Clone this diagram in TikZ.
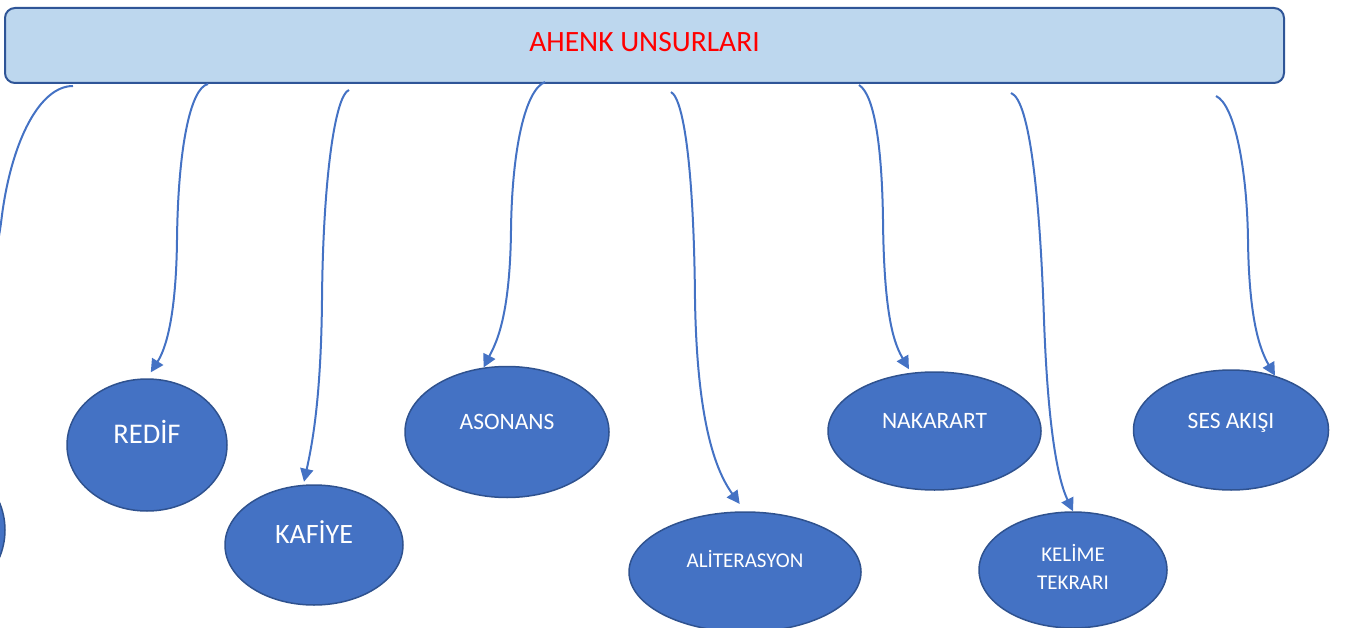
\documentclass[tikz,border=0pt]{standalone}
\usepackage{fontspec}
\setmainfont{Carlito}
\usetikzlibrary{arrows.meta,shapes.geometric}
\definecolor{bannerfill}{HTML}{BDD7EE}
\definecolor{bannerline}{HTML}{2F5597}
\definecolor{bubblefill}{HTML}{4472C4}
\definecolor{bubbleline}{HTML}{2F528F}
\definecolor{linkblue}{HTML}{4472C4}

\begin{document}
\begin{tikzpicture}
      [ x = 1pt, y = -1pt
      , banner/.style =
        { draw=bannerline, fill=bannerfill, line width=2pt, rounded corners=10pt, inner sep=0pt }
      , bannertext/.style =
        { text=red, font=\fontsize{29.5}{34}\selectfont, inner sep=0pt }
      , bubble/.style =
        { ellipse, draw=bubbleline, fill=bubblefill, line width=1.5pt, inner sep=0pt }
      , bubtext/.style =
        { text=white, inner sep=0pt, align=center }
      , link/.style =
        { draw=linkblue, line width=2pt, -{Triangle[length=13pt,width=13pt]} }
      ]
      \useasboundingbox (0,0) rectangle (1348,628);
      \clip (0,0) rectangle (1348,628);
      \node [banner, minimum width=1279pt, minimum height=75pt] (title) at (644.5,45.5) {};
      \node [bannertext, anchor=base] (titletext) at ([yshift=-6.5pt]title.center) {AHENK UNSURLARI};
      \node [bubble, minimum width=160pt, minimum height=150pt] (hidden) at (-75,530) {};
      \node [bubble, minimum width=160pt, minimum height=132pt] (redif) at (147,445) {};
      \node [bubble, minimum width=178pt, minimum height=120pt] (kafiye) at (314,545) {};
      \node [bubble, minimum width=204pt, minimum height=131pt] (asonans) at (507,432) {};
      \node [bubble, minimum width=232pt, minimum height=120pt] (aliterasyon) at (745,572) {};
      \node [bubble, minimum width=213pt, minimum height=118pt] (nakarart) at (934.5,431) {};
      \node [bubble, minimum width=188pt, minimum height=116pt] (kelime) at (1073,570) {};
      \node [bubble, minimum width=195pt, minimum height=120pt] (sesakisi) at (1231,430) {};
      \node [bubtext, anchor=base, font=\fontsize{28.5}{34}\selectfont] (rediftext) at ([yshift=2pt]redif.center) {REDİF};
      \node [bubtext, anchor=base, font=\fontsize{28}{33}\selectfont] (kafiyetext) at ([yshift=2pt]kafiye.center) {KAFİYE};
      \node [bubtext, anchor=base, font=\fontsize{23.5}{28}\selectfont] (asonanstext) at ([yshift=3pt]asonans.center) {ASONANS};
      \node [bubtext, anchor=base, font=\fontsize{21}{26}\selectfont] (aliterasyontext) at ([yshift=5pt]aliterasyon.center) {ALİTERASYON};
      \node [bubtext, anchor=base, font=\fontsize{23.5}{28}\selectfont] (nakararttext) at ([yshift=3pt]nakarart.center) {NAKARART};
      \node [bubtext, font=\fontsize{21}{28}\selectfont] (kelimetext) at ([yshift=3pt]kelime.center) {KELİME\\TEKRARI};
      \node [bubtext, anchor=base, font=\fontsize{23.5}{28}\selectfont] (sesakisitext) at ([yshift=2pt]sesakisi.center) {SES AKIŞI};
      \coordinate (s0) at (73,86);
      \coordinate (s1) at (208,84);
      \coordinate (s2) at (349,90);
      \coordinate (s3) at (545,82);
      \coordinate (s4) at (671,92);
      \coordinate (s5) at (859,85);
      \coordinate (s6) at (1011,93);
      \coordinate (s7) at (1216,96);
      \draw [link] (s0) .. controls (40,86) and (12,140) .. (2,215) .. controls (-10,320) and (-60,360) .. (hidden.north);
      \draw [link, shorten >=7pt] (s1) .. controls (190,88) and (178,150) .. (177,240) .. controls (176,320) and (165,350) .. (redif.north);
      \draw [link, shorten >=3pt] (s2) .. controls (335,95) and (323,180) .. (322,300) .. controls (321,400) and (312,445) .. (kafiye.100);
      \draw [link] (s3) .. controls (525,90) and (512,150) .. (511,230) .. controls (510,320) and (495,345) .. (asonans.110);
      \draw [link, shorten >=9pt] (s4) .. controls (685,100) and (694,180) .. (695,300) .. controls (697,420) and (715,470) .. (aliterasyon.north);
      \draw [link, shorten >=4pt] (s5) .. controls (875,95) and (882,150) .. (883,220) .. controls (884,320) and (895,345) .. (nakarart.112);
      \draw [link] (s6) .. controls (1030,100) and (1040,200) .. (1044,320) .. controls (1048,430) and (1058,480) .. (kelime.north);
      \draw [link] (s7) .. controls (1235,105) and (1247,170) .. (1248,240) .. controls (1249,320) and (1260,350) .. (sesakisi.51);
\end{tikzpicture}
\end{document}
